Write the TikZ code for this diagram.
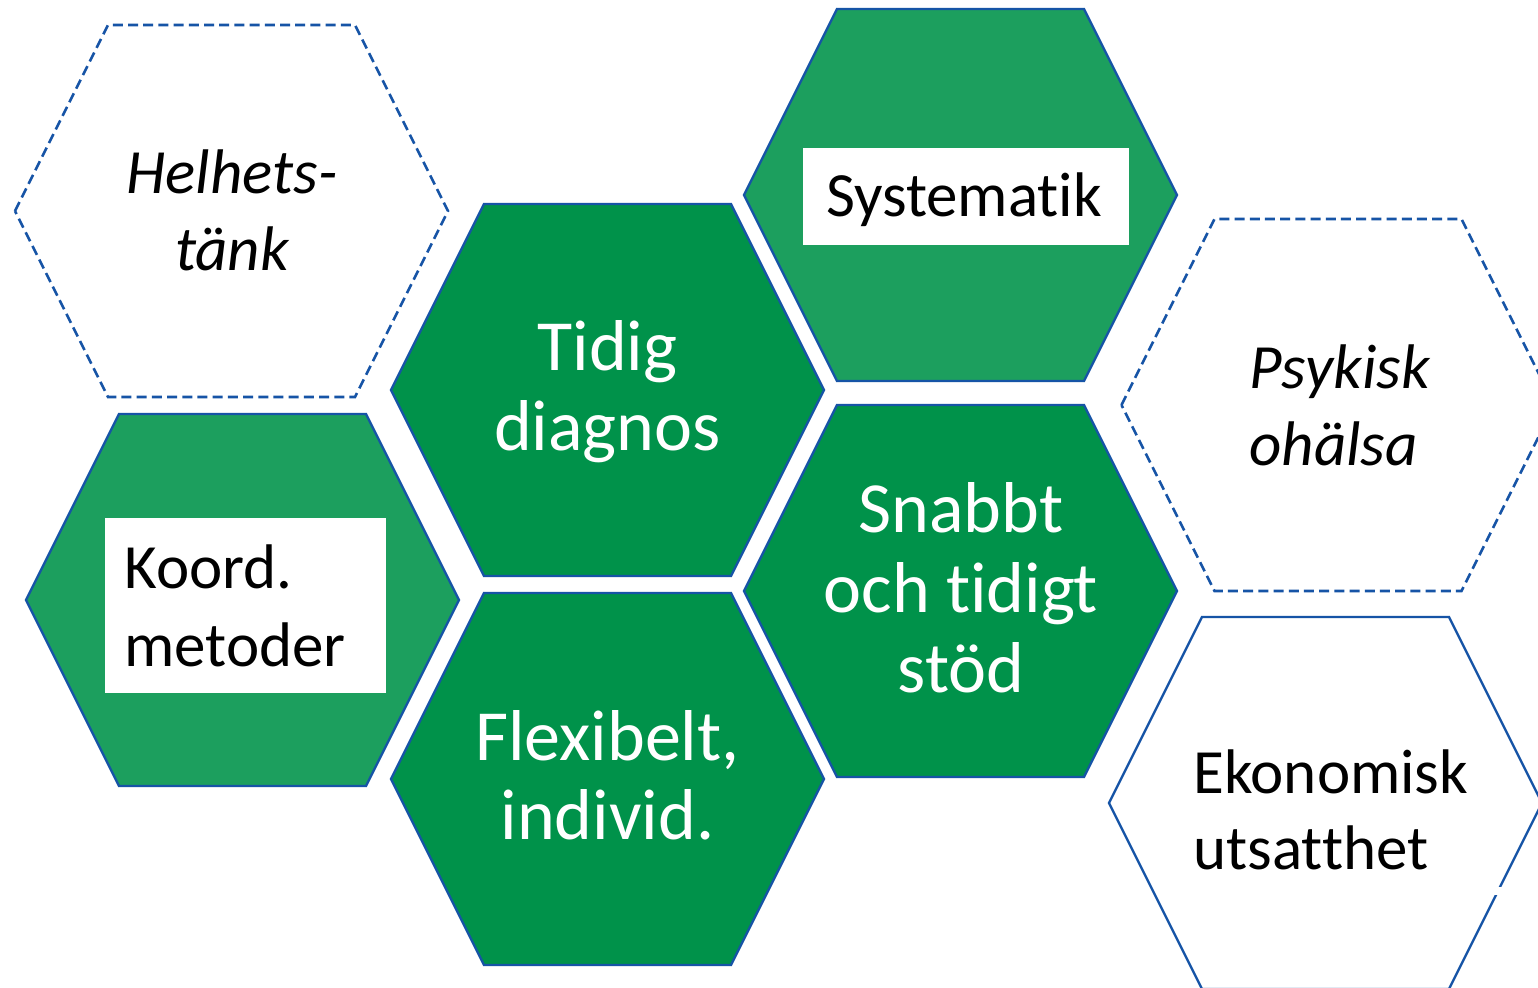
\documentclass[tikz,border=0pt]{standalone}
\usepackage{fontspec}
\setmainfont{Carlito}[RawFeature={-liga;-clig;-dlig;-calt}]
\definecolor{hexblue}{RGB}{22,84,166}
\definecolor{darkgreen}{RGB}{0,146,74}
\definecolor{lightgreen}{RGB}{28,159,94}
\tikzset{
  hexa/.style={insert path={++(-216.5,0) -- ++(93,-186) -- ++(247,0) -- ++(93,186) -- ++(-93,186) -- ++(-247,0) -- cycle}},
  darkhex/.style={draw=hexblue, line width=1.2pt, fill=darkgreen, line join=miter},
  lighthex/.style={draw=hexblue, line width=1.2pt, fill=lightgreen, line join=miter},
  dashhex/.style={draw=hexblue, line width=1.3pt, dash pattern=on 5pt off 2.6pt, fill=white},
  plainhex/.style={draw=hexblue, line width=1.2pt, fill=white},
  whitetxt/.style={text=white, font=\fontsize{36}{40}\selectfont, inner sep=0pt},
  blacktxt/.style={text=black, font=\fontsize{31.5}{38}\selectfont, inner sep=0pt},
  italtxt/.style={text=black, font=\fontsize{31.5}{38}\selectfont\itshape, inner sep=0pt},
  labelbox/.style={fill=white, draw=none}
}
\begin{document}
\begin{tikzpicture}[x=0.5pt,y=-0.5pt]
\useasboundingbox (0,0) rectangle (1538,987);
\clip (0,0) rectangle (1538,987);
\fill[white] (0,0) rectangle (1538,987);

% hexagons
\draw[dashhex] (231.5,211) [hexa];
\draw[darkhex] (607.5,390) [hexa];
\draw[lighthex] (960.5,195) [hexa];
\draw[dashhex] (1338,405) [hexa];
\draw[lighthex] (242.5,600) [hexa];
\draw[darkhex] (607.5,779) [hexa];
\draw[darkhex] (960.5,591) [hexa];
\draw[plainhex] (1325.5,803) [hexa];
\fill[white] (1493,887) rectangle (1506,895);

% white label boxes
\fill[labelbox] (803,148) rectangle (1129,245);
\fill[labelbox] (105,518) rectangle (386,693);

% texts
\node[italtxt, anchor=base] (h1) at (232,193) {Helhets-};
\node[italtxt, anchor=base] (h2) at (232,270) {tänk};

\node[whitetxt, anchor=base] (t1) at (607.5,370) {Tidig};
\node[whitetxt, anchor=base] (t2) at (607.5,450) {diagnos};

\node[blacktxt, anchor=base] (s1) at (964,216) {Systematik};

\node[italtxt, anchor=base west] (p1) at (1249,388) {Psykisk};
\node[italtxt, anchor=base west] (p2) at (1249,465) {ohälsa};

\node[blacktxt, anchor=base west] (k1) at (124,588) {Koord.};
\node[blacktxt, anchor=base west] (k2) at (124,666) {metoder};

\node[whitetxt, anchor=base] (sn1) at (961,532) {Snabbt};
\node[whitetxt, anchor=base] (sn2) at (961,612) {och tidigt};
\node[whitetxt, anchor=base] (sn3) at (961,692) {stöd};

\node[whitetxt, anchor=base] (f1) at (607.5,760) {Flexibelt,};
\node[whitetxt, anchor=base] (f2) at (607.5,839) {individ.};

\node[blacktxt, anchor=base west] (e1) at (1193,793) {Ekonomisk};
\node[blacktxt, anchor=base west] (e2) at (1193,869) {utsatthet};
\end{tikzpicture}
\end{document}
